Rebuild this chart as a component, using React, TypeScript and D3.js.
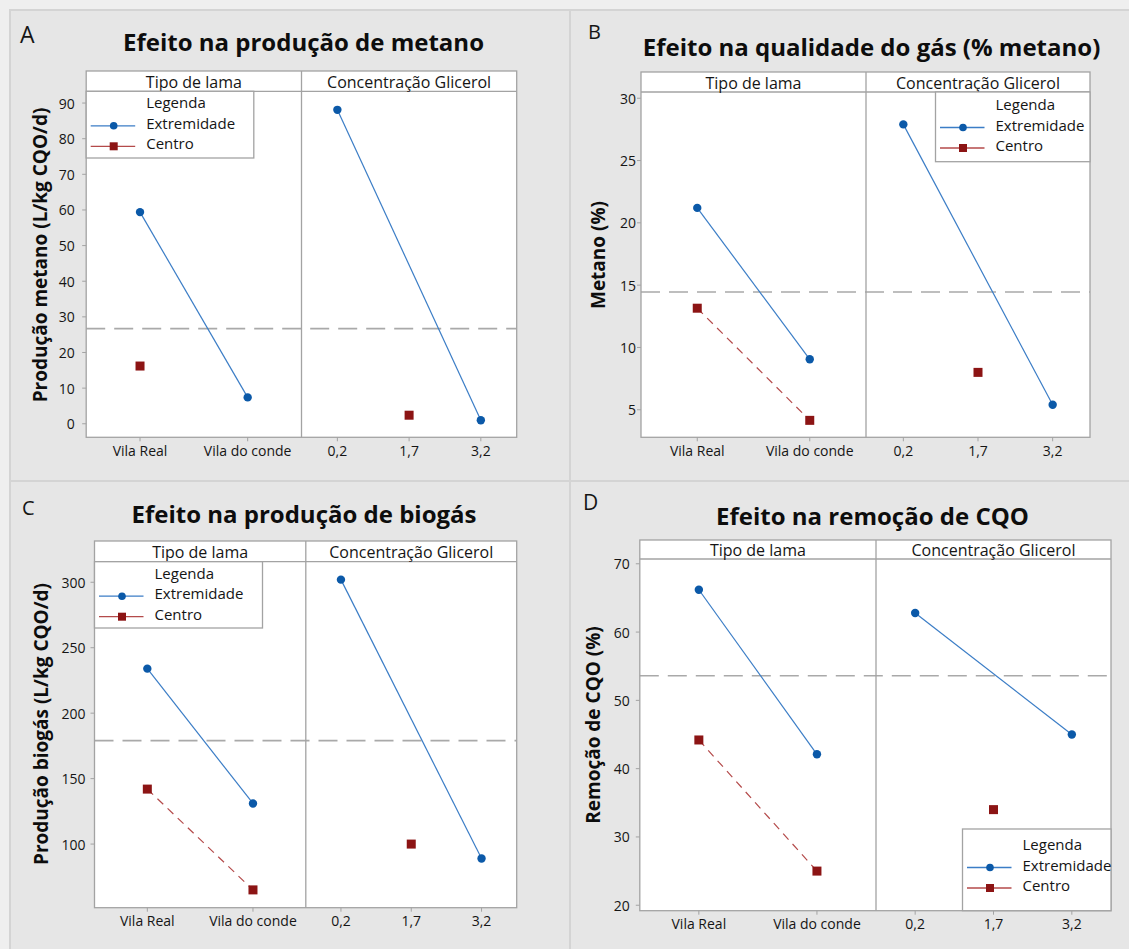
import React from 'react';
import * as d3 from 'd3';

// Factor levels shared by every panel
const tipoLevels = ['Vila Real', 'Vila do conde'];
const glicLevels = ['0,2', '1,7', '3,2'];

// A – produção de metano (L/kg CQO/d)
const metanoExtTipo: (number | null)[] = [59.4, 7.4];
const metanoCentroTipo: (number | null)[] = [16.2, null];
const metanoExtGlic: (number | null)[] = [88.1, null, 1.0];
const metanoCentroGlic: (number | null)[] = [null, 2.4, null];
const metanoMedia = 26.7;
const metanoTicks = [0, 10, 20, 30, 40, 50, 60, 70, 80, 90];

// B – qualidade do gás (% metano)
const qualidadeExtTipo: (number | null)[] = [21.2, 9.05];
const qualidadeCentroTipo: (number | null)[] = [13.15, 4.15];
const qualidadeExtGlic: (number | null)[] = [27.9, null, 5.4];
const qualidadeCentroGlic: (number | null)[] = [null, 8.0, null];
const qualidadeMedia = 14.45;
const qualidadeTicks = [5, 10, 15, 20, 25, 30];

// C – produção de biogás (L/kg CQO/d)
const biogasExtTipo: (number | null)[] = [234, 131];
const biogasCentroTipo: (number | null)[] = [142, 65];
const biogasExtGlic: (number | null)[] = [302, null, 89];
const biogasCentroGlic: (number | null)[] = [null, 100, null];
const biogasMedia = 179;
const biogasTicks = [100, 150, 200, 250, 300];

// D – remoção de CQO (%)
const cqoExtTipo: (number | null)[] = [66.2, 42.1];
const cqoCentroTipo: (number | null)[] = [44.2, 25.0];
const cqoExtGlic: (number | null)[] = [62.8, null, 45.0];
const cqoCentroGlic: (number | null)[] = [null, 34.0, null];
const cqoMedia = 53.6;
const cqoTicks = [20, 30, 40, 50, 60, 70];

const FONT = "'Open Sans', 'Noto Sans', sans-serif";
const BLUE_MARK = '#0b59a8';
const BLUE_LINE = '#3b7dc6';
const RED_MARK = '#8c1414';
const RED_LINE = '#b44a4a';
const FRAME = '#a3a3a3';
const INK = '#151515';

type Series = {
  extTipo: (number | null)[];
  centroTipo: (number | null)[];
  extGlic: (number | null)[];
  centroGlic: (number | null)[];
  media: number;
  ticks: number[];
};

type Layout = {
  bg: [number, number, number, number];
  letter: string;
  letterX: number;
  letterY: number;
  letterSize: number;
  title: string;
  titleX: number;
  titleY: number;
  yLabel: string;
  yLabelX: number;
  yLabelY: number;
  x0: number;
  xm: number;
  x1: number;
  stripTop: number;
  plotTop: number;
  plotBottom: number;
  yDomain: [number, number];
  tickGap: number;
  xLabelY: number;
  legend: { x: number; y: number; w: number; h: number; dy: number };
};

const layouts: Layout[] = [
  {
    bg: [10, 10, 560, 471],
    letter: 'A', letterX: 20, letterY: 43, letterSize: 23,
    title: 'Efeito na produção de metano', titleX: 303.5, titleY: 51,
    yLabel: 'Produção metano (L/kg CQO/d)', yLabelX: 40, yLabelY: 255,
    x0: 86.2, xm: 301.5, x1: 516.7,
    stripTop: 71, plotTop: 91.3, plotBottom: 437.3,
    yDomain: [-3.8, 93.3], tickGap: 11.5, xLabelY: 456,
    legend: { x: 86.2, y: 91.3, w: 167.6, h: 66.7, dy: 17 },
  },
  {
    bg: [570, 10, 561, 471],
    letter: 'B', letterX: 588, letterY: 39, letterSize: 20,
    title: 'Efeito na qualidade do gás (% metano)', titleX: 871.5, titleY: 56,
    yLabel: 'Metano (%)', yLabelX: 598, yLabelY: 255,
    x0: 641, xm: 866, x1: 1090,
    stripTop: 72, plotTop: 92, plotBottom: 437.3,
    yDomain: [2.79, 30.5], tickGap: 5, xLabelY: 456,
    legend: { x: 935.5, y: 92, w: 154.5, h: 69.7, dy: 18 },
  },
  {
    bg: [10, 481, 560, 470],
    letter: 'C', letterX: 22, letterY: 515, letterSize: 20,
    title: 'Efeito na produção de biogás', titleX: 304, titleY: 523,
    yLabel: 'Produção biogás (L/kg CQO/d)', yLabelX: 41, yLabelY: 724,
    x0: 94.5, xm: 305.8, x1: 516.7,
    stripTop: 541, plotTop: 561.7, plotBottom: 907.7,
    yDomain: [51.4, 315.7], tickGap: 9, xLabelY: 926,
    legend: { x: 94.5, y: 561.7, w: 168, h: 66.3, dy: 17 },
  },
  {
    bg: [570, 481, 561, 470],
    letter: 'D', letterX: 583, letterY: 510, letterSize: 21,
    title: 'Efeito na remoção de CQO', titleX: 872.5, titleY: 525,
    yLabel: 'Remoção de CQO (%)', yLabelX: 593, yLabelY: 725,
    x0: 639.8, xm: 876, x1: 1111,
    stripTop: 540, plotTop: 559, plotBottom: 910.7,
    yDomain: [19.2, 70.7], tickGap: 10, xLabelY: 929,
    legend: { x: 962.5, y: 829, w: 148.5, h: 81.7, dy: 21 },
  },
];

const series: Series[] = [
  { extTipo: metanoExtTipo, centroTipo: metanoCentroTipo, extGlic: metanoExtGlic, centroGlic: metanoCentroGlic, media: metanoMedia, ticks: metanoTicks },
  { extTipo: qualidadeExtTipo, centroTipo: qualidadeCentroTipo, extGlic: qualidadeExtGlic, centroGlic: qualidadeCentroGlic, media: qualidadeMedia, ticks: qualidadeTicks },
  { extTipo: biogasExtTipo, centroTipo: biogasCentroTipo, extGlic: biogasExtGlic, centroGlic: biogasCentroGlic, media: biogasMedia, ticks: biogasTicks },
  { extTipo: cqoExtTipo, centroTipo: cqoCentroTipo, extGlic: cqoExtGlic, centroGlic: cqoCentroGlic, media: cqoMedia, ticks: cqoTicks },
];

function Panel({ L, s }: { L: Layout; s: Series }) {
  const y = d3.scaleLinear().domain(L.yDomain).range([L.plotBottom, L.plotTop]);
  const xTipo = d3.scalePoint<string>().domain(tipoLevels).range([L.x0, L.xm]).padding(0.5);
  const xGlic = d3.scalePoint<string>().domain(glicLevels).range([L.xm, L.x1]).padding(0.5);
  const line = d3.line<[number, number]>();

  const toPts = (scale: d3.ScalePoint<string>, levels: string[], vals: (number | null)[]) =>
    levels
      .map((lv, i) => (vals[i] == null ? null : ([scale(lv) as number, y(vals[i] as number)] as [number, number])))
      .filter((p): p is [number, number] => p !== null);

  const groups = [
    { ext: toPts(xTipo, tipoLevels, s.extTipo), cen: toPts(xTipo, tipoLevels, s.centroTipo) },
    { ext: toPts(xGlic, glicLevels, s.extGlic), cen: toPts(xGlic, glicLevels, s.centroGlic) },
  ];

  const lg = L.legend;
  const rows = [
    { label: 'Extremidade', color: BLUE_LINE, mark: BLUE_MARK, square: false },
    { label: 'Centro', color: RED_LINE, mark: RED_MARK, square: true },
  ];

  return (
    <g fontFamily={FONT}>
      <rect x={L.bg[0]} y={L.bg[1]} width={L.bg[2]} height={L.bg[3]} fill="#e6e6e6" stroke="#d4d4d4" strokeWidth={2} />
      <text x={L.letterX} y={L.letterY} fontSize={L.letterSize} fill={INK}>{L.letter}</text>
      <text x={L.titleX} y={L.titleY} fontSize={24} fontWeight={700} textAnchor="middle" fill="#0d0d0d">{L.title}</text>
      <text
        transform={`translate(${L.yLabelX},${L.yLabelY}) rotate(-90)`}
        fontSize={19}
        fontWeight={700}
        textAnchor="middle"
        dominantBaseline="central"
        fill="#0d0d0d"
      >
        {L.yLabel}
      </text>

      {/* plot and strip backgrounds */}
      <rect x={L.x0} y={L.stripTop} width={L.x1 - L.x0} height={L.plotBottom - L.stripTop} fill="#fff" />

      {/* overall mean */}
      <line x1={L.x0} x2={L.x1} y1={y(s.media)} y2={y(s.media)} stroke="#a9a9a9" strokeWidth={1.6} strokeDasharray="19,9" />

      {groups.map((g, gi) => (
        <g key={gi}>
          {g.cen.length > 1 && (
            <path d={line(g.cen) || ''} fill="none" stroke={RED_LINE} strokeWidth={1.2} strokeDasharray="8,6" />
          )}
          {g.ext.length > 1 && <path d={line(g.ext) || ''} fill="none" stroke={BLUE_LINE} strokeWidth={1.2} />}
          {g.cen.map((p, i) => (
            <rect key={'c' + i} x={p[0] - 4.5} y={p[1] - 4.5} width={9} height={9} fill={RED_MARK} />
          ))}
          {g.ext.map((p, i) => (
            <circle key={'e' + i} cx={p[0]} cy={p[1]} r={4.2} fill={BLUE_MARK} />
          ))}
        </g>
      ))}

      {/* frame, strip and divider */}
      <rect x={L.x0} y={L.stripTop} width={L.x1 - L.x0} height={L.plotBottom - L.stripTop} fill="none" stroke={FRAME} strokeWidth={1.3} />
      <line x1={L.x0} x2={L.x1} y1={L.plotTop} y2={L.plotTop} stroke={FRAME} strokeWidth={1.3} />
      <line x1={L.xm} x2={L.xm} y1={L.stripTop} y2={L.plotBottom} stroke={FRAME} strokeWidth={1.3} />
      <text x={(L.x0 + L.xm) / 2} y={(L.stripTop + L.plotTop) / 2 + 0.5} fontSize={16} textAnchor="middle" dominantBaseline="central" fill={INK}>
        Tipo de lama
      </text>
      <text x={(L.xm + L.x1) / 2} y={(L.stripTop + L.plotTop) / 2 + 0.5} fontSize={16} textAnchor="middle" dominantBaseline="central" fill={INK}>
        Concentração Glicerol
      </text>

      {/* y axis */}
      {s.ticks.map((t) => (
        <g key={t}>
          <line x1={L.x0 - 4} x2={L.x0} y1={y(t)} y2={y(t)} stroke={FRAME} />
          <text x={L.x0 - L.tickGap} y={y(t)} fontSize={14} textAnchor="end" dominantBaseline="central" fill={INK}>
            {t}
          </text>
        </g>
      ))}

      {/* x axis */}
      {tipoLevels.map((lv) => (
        <g key={lv}>
          <line x1={xTipo(lv)} x2={xTipo(lv)} y1={L.plotBottom} y2={L.plotBottom + 4} stroke={FRAME} />
          <text x={xTipo(lv)} y={L.xLabelY} fontSize={14} textAnchor="middle" fill={INK}>{lv}</text>
        </g>
      ))}
      {glicLevels.map((lv) => (
        <g key={lv}>
          <line x1={xGlic(lv)} x2={xGlic(lv)} y1={L.plotBottom} y2={L.plotBottom + 4} stroke={FRAME} />
          <text x={xGlic(lv)} y={L.xLabelY} fontSize={14} textAnchor="middle" fill={INK}>{lv}</text>
        </g>
      ))}

      {/* legend */}
      <g>
        <rect x={lg.x} y={lg.y} width={lg.w} height={lg.h} fill="#fff" stroke={FRAME} strokeWidth={1.3} />
        <text x={lg.x + 60} y={lg.y + lg.dy} fontSize={15} fill={INK}>Legenda</text>
        {rows.map((r, i) => {
          const by = lg.y + lg.dy + 20.5 * (i + 1);
          const ly = by - 3;
          const mx = lg.x + 27.5;
          return (
            <g key={r.label}>
              <line x1={lg.x + 4.5} x2={lg.x + 49} y1={ly} y2={ly} stroke={r.color} strokeWidth={1.3} />
              {r.square ? (
                <rect x={mx - 4} y={ly - 4} width={8} height={8} fill={r.mark} />
              ) : (
                <circle cx={mx} cy={ly} r={3.8} fill={r.mark} />
              )}
              <text x={lg.x + 60} y={by} fontSize={15} fill={INK}>{r.label}</text>
            </g>
          );
        })}
      </g>
    </g>
  );
}

export default function App() {
  return (
    <svg
      width={1129}
      height={949}
      viewBox="0 0 1129 949"
      style={{ position: 'absolute', left: 0, top: 0, display: 'block' }}
    >
      <rect x={0} y={0} width={1129} height={949} fill="#efefef" />
      {layouts.map((L, i) => (
        <Panel key={L.letter} L={L} s={series[i]} />
      ))}
    </svg>
  );
}
